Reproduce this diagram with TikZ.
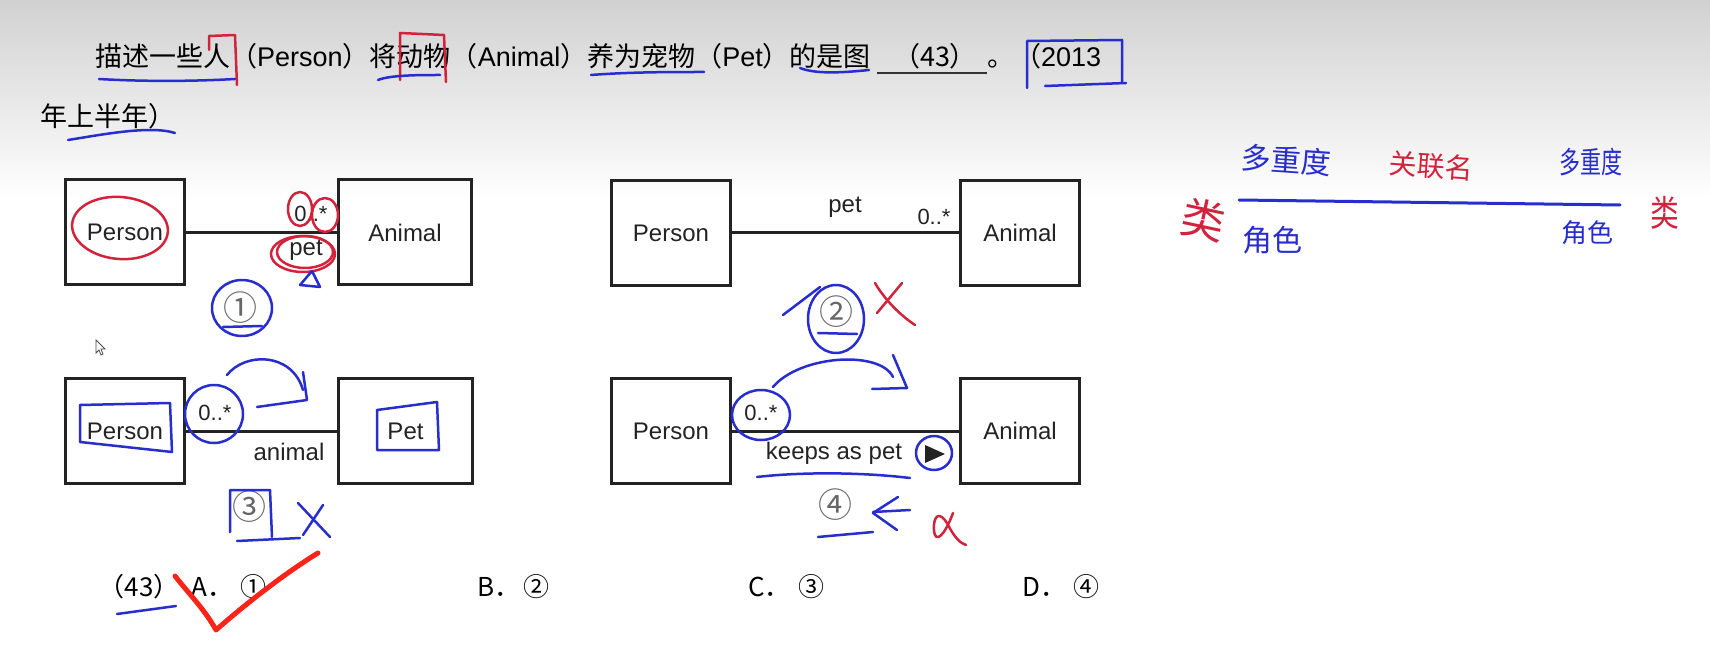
\documentclass[tikz,border=0pt]{standalone}
\usepackage{fontspec}
\setmainfont{Liberation Sans}
\newfontfamily\cjk{Noto Sans CJK SC}
\newcommand\fsz[1]{\fontsize{#1}{#1}\selectfont}
\newcommand\lat[1]{{\rmfamily #1}}
\definecolor{inkblue}{RGB}{40,45,205}
\definecolor{inkred}{RGB}{210,35,60}
\definecolor{chkred}{RGB}{250,35,25}
\definecolor{boxgray}{RGB}{35,35,35}
\begin{document}
\begin{tikzpicture}[x=1pt,y=-1pt,
  cls/.style={draw=boxgray, line width=3pt, minimum height=105pt, inner sep=0pt, font=\fsz{24}, text=boxgray},
  assoc/.style={draw=boxgray, line width=3pt},
  lbl/.style={inner sep=0pt, font=\fsz{24}, text=boxgray},
  mult/.style={inner sep=0pt, font=\fsz{22}, text=boxgray},
  num/.style={inner sep=0pt, font=\cjk\fsz{34}, text=black!60},
  ttl/.style={inner sep=0pt, anchor=base west, font=\cjk\fsz{27}},
  ans/.style={inner sep=0pt, anchor=base west, font=\cjk\fsz{26}},
  bink/.style={draw=inkblue, line width=2.5pt, line cap=round, line join=round},
  rink/.style={draw=inkred, line width=2.5pt, line cap=round, line join=round},
  hblue/.style={inner sep=0pt, font=\cjk\fsz{30}, text=inkblue},
  hred/.style={inner sep=0pt, font=\cjk\fsz{30}, text=inkred},
]
\useasboundingbox (0,0) rectangle (1710,668);
\fill[white] (0,0) rectangle (1710,668);
\shade[top color=black!18, bottom color=white] (0,0) rectangle (1710,200);

% ---------- question text ----------
\node[ttl] (t1) at (95,67) {描述一些人（\lat{Person}）将动物（\lat{Animal}）养为宠物（\lat{Pet}）的是图};
\node[inner sep=0pt, anchor=base, font=\cjk\fsz{27}] (t2) at (935,67) {（43）};
\draw[black!80, line width=2pt] (877,73) -- (987,73);
\node[ttl] (t3) at (987,67) {。（\lat{2013}};
\node[ttl] (t4) at (40,127) {年上半年）};

% ---------- diagram 1 ----------
\node[cls, minimum width=119pt] (p1) at (125,232.5) {Person};
\node[cls, minimum width=133pt] (a1) at (405,232.5) {Animal};
\draw[assoc] (p1) -- (a1);
\node[mult] (m1) at (311,214) {0..*};
\node[lbl] (r1) at (306,250) {pet};
\node[num] (n1) at (240,308) {①};

% ---------- diagram 2 ----------
\node[cls, minimum width=119pt] (p2) at (671,233) {Person};
\node[cls, minimum width=119pt] (a2) at (1020,233) {Animal};
\draw[assoc] (p2) -- (a2);
\node[lbl] (r2) at (845,207) {pet};
\node[mult] (m2) at (934,217) {0..*};
\node[num] (n2) at (836,312) {②};

% ---------- diagram 3 ----------
\node[cls, minimum width=119pt] (p3) at (125,431) {Person};
\node[cls, minimum width=134pt] (q3) at (405.5,431) {Pet};
\draw[assoc] (p3) -- (q3);
\node[mult] (m3) at (215,413) {0..*};
\node[lbl] (r3) at (289,452) {animal};
\node[num] (n3) at (249,507) {③};

% ---------- diagram 4 ----------
\node[cls, minimum width=119pt] (p4) at (671,431) {Person};
\node[cls, minimum width=119pt] (a4) at (1020,431) {Animal};
\draw[assoc] (p4) -- (a4);
\node[mult] (m4) at (761,413) {0..*};
\node[lbl] (r4) at (834,453) {keeps as pet};
\fill[boxgray] (925,445) -- (945,454) -- (925,463) -- cycle;
\node[num] (n4) at (835,505) {④};

% mouse pointer
\draw[black!70, line width=0.8pt, fill=white] (96,340) -- (96,353) -- (99,350) -- (101,355) -- (103,354) -- (101,349) -- (105,349) -- cycle;

% ---------- answers ----------
\node[inner sep=0pt, anchor=base, font=\cjk\fsz{26}] (c0) at (139,596) {（43）};
\node[ans] (c1) at (191,596) {A．};
\node[ans] (c2) at (240,596) {①};
\node[ans] (c3) at (477,596) {B．};
\node[ans] (c4) at (523,596) {②};
\node[ans] (c5) at (748,596) {C．};
\node[ans] (c6) at (798,596) {③};
\node[ans] (c7) at (1022,596) {D．};
\node[ans] (c8) at (1073,596) {④};

% ---------- handwriting: title ----------
\draw[rink] (209,50) -- (209,36) -- (235,35) -- (237,85);
\draw[rink] (400,80) -- (400,33) -- (444,35) -- (446,82);
\draw[bink] (99,79) .. controls (150,82) and (200,81) .. (235,79);
\draw[bink] (378,80) .. controls (390,75) and (420,75) .. (440,75);
\draw[bink] (591,75) .. controls (630,72) and (670,72) .. (704,72);
\draw[bink] (800,68) .. controls (815,74) and (840,73) .. (869,70);
\draw[bink] (1027,88) -- (1027,41) -- (1122,40) -- (1122,83);
\draw[bink] (1045,86) -- (1126,83);
\draw[bink] (68,140) .. controls (100,135) and (150,125) .. (175,133);

% ---------- handwriting: diagram 1 ----------
\draw[rink, rotate around={-5:(120,228)}] (120,228) ellipse[x radius=48, y radius=31];
\draw[rink] (300,209) ellipse[x radius=12, y radius=17];
\draw[rink] (325,215) ellipse[x radius=13, y radius=17];
\draw[rink] (303,254) ellipse[x radius=32, y radius=18];
\draw[rink] (305,252) ellipse[x radius=28, y radius=16];
\draw[bink] (300,285) -- (312,271) -- (320,287) -- cycle;
\draw[bink] (242,308) ellipse[x radius=30, y radius=28];
\draw[bink] (223,327) -- (262,326);

% ---------- handwriting: diagram 2 ----------
\draw[bink] (836,319) ellipse[x radius=28, y radius=34];
\draw[bink] (783,315) -- (820,287);
\draw[bink] (818,333) -- (857,334);
\draw[rink] (902,283) -- (877,313);
\draw[rink] (875,283) .. controls (885,300) and (900,315) .. (915,325);

% ---------- handwriting: diagram 3 ----------
\draw[bink] (214,414) circle[radius=29];
\draw[bink] (227,375) .. controls (245,352) and (292,352) .. (303,390);
\draw[bink] (303,372) -- (307,400) -- (257,407);
\draw[bink] (80,405) -- (170,403) -- (172,452) -- (80,442) -- cycle;
\draw[bink] (377,410) -- (437,402) -- (439,450) -- (377,450) -- cycle;
\draw[bink] (230,532) -- (230,490) -- (270,490) -- (272,537);
\draw[bink] (237,541) -- (300,538);
\draw[bink] (298,503) -- (330,537);
\draw[bink] (323,505) -- (303,535);

% ---------- handwriting: diagram 4 ----------
\draw[bink] (761,415) ellipse[x radius=29, y radius=25];
\draw[bink] (773,387) .. controls (800,355) and (880,350) .. (893,377);
\draw[bink] (893,355) -- (907,388) -- (872,389);
\draw[bink] (757,477) .. controls (800,472) and (860,472) .. (910,478);
\draw[bink] (934,453) ellipse[x radius=18, y radius=17];
\draw[bink] (898,497) -- (873,513) -- (897,530);
\draw[bink] (873,512) -- (910,510);
\draw[bink] (818,537) -- (873,532);
\draw[rink] (953,513) .. controls (945,535) and (935,545) .. (934,530) .. controls (933,515) and (940,510) .. (948,525) .. controls (955,538) and (960,543) .. (966,545);

% ---------- handwriting: answers ----------
\draw[bink] (117,614) -- (176,606);
\draw[chkred, line width=5pt, line cap=round, line join=round] (175,576) .. controls (190,595) and (205,610) .. (216,630) .. controls (250,600) and (290,570) .. (318,553);

% ---------- handwriting: right notes ----------
\draw[inkblue, line width=3pt, line cap=round] (1239,200) -- (1620,205);
\node[hblue, rotate=-4] (w1) at (1286,160) {多重度};
\node[hred, font=\cjk\fsz{28}, rotate=-4] (w2) at (1431,166) {关联名};
\node[hblue] (w3) at (1591,162) {\scalebox{0.7}[1]{多重度}};
\node[hred, font=\cjk\fsz{44}, rotate=-12] (w4) at (1203,220) {类};
\node[hblue] (w5) at (1272,240) {角色};
\node[hblue, font=\cjk\fsz{26}] (w6) at (1587,233) {角色};
\node[hred, font=\cjk\fsz{36}] (w7) at (1665,213) {\scalebox{0.8}[1]{类}};
\end{tikzpicture}
\end{document}
